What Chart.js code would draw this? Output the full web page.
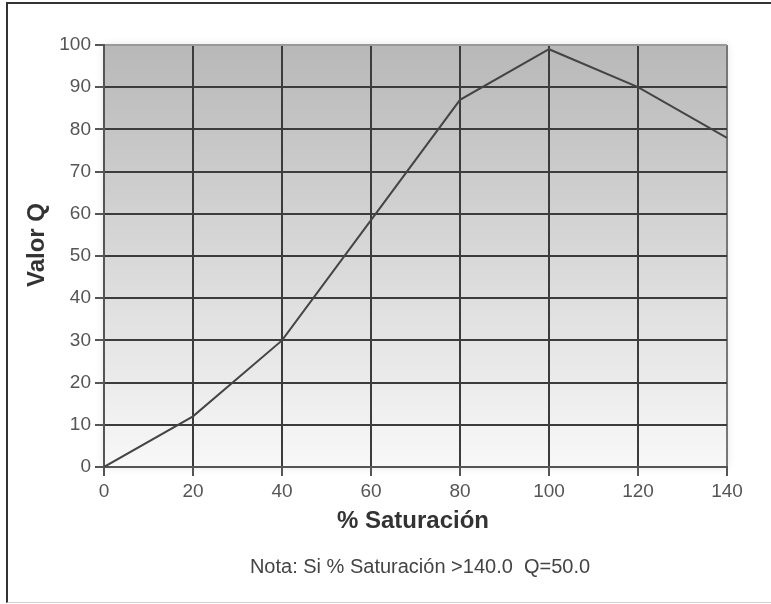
<!DOCTYPE html>
<html lang="es">
<head>
<meta charset="UTF-8">
<title>Valor Q - % Saturación</title>
<script src="https://cdn.jsdelivr.net/npm/chart.js"></script>
<style>
    body {
        margin: 0;
        background: #fff;
        overflow: hidden;
    }
    .marco {
        position: absolute;
        left: 6px;
        top: 2px;
        width: 800px;
        height: 598px;
        border-top: 2px solid #333;
        border-left: 2px solid #333;
        border-bottom: 1px solid #d0d0d0;
    }
    #grafica {
        position: absolute;
        left: 0;
        top: 0;
    }
</style>
</head>
<body>
<div class="marco"></div>
<canvas id="grafica" width="771" height="604"></canvas>

<script>
    // datos
    const saturacion = [0, 20, 40, 60, 80, 100, 120, 140];
    const valorQ = [0, 12, 30, 58.5, 87, 99, 90, 78];

    const tituloX = '% Saturación';
    const tituloY = 'Valor Q';
    const nota = 'Nota: Si % Saturación >140.0  Q=50.0';

    const fuente = '"Liberation Sans", Arial, sans-serif';

    // fondo degradado del área de la gráfica
    const fondo = {
        id: 'fondo',
        beforeDraw(chart) {
            const { ctx, chartArea: a } = chart;
            const g = ctx.createLinearGradient(0, a.top, 0, a.bottom);
            g.addColorStop(0, '#b8b8b8');
            g.addColorStop(1, '#f8f8f8');
            ctx.save();
            ctx.shadowColor = 'rgba(0,0,0,0.12)';
            ctx.shadowBlur = 8;
            ctx.fillStyle = g;
            ctx.fillRect(a.left, a.top, a.right - a.left, a.bottom - a.top);
            ctx.restore();
        }
    };

    // títulos y nota
    const textos = {
        id: 'textos',
        afterDraw(chart) {
            const ctx = chart.ctx;
            ctx.save();
            ctx.textAlign = 'center';
            ctx.textBaseline = 'middle';
            ctx.fillStyle = '#333';
            ctx.font = 'bold 24px ' + fuente;
            ctx.fillText(tituloX, 413, 521);

            ctx.save();
            ctx.translate(37, 245);
            ctx.rotate(-Math.PI / 2);
            ctx.fillText(tituloY, 0, 0);
            ctx.restore();

            ctx.fillStyle = '#444';
            ctx.font = '20px ' + fuente;
            ctx.fillText(nota, 420, 567);
            ctx.restore();
        }
    };

    new Chart(document.getElementById('grafica'), {
        type: 'scatter',
        data: {
            datasets: [{
                data: saturacion.map((x, i) => ({ x: x, y: valorQ[i] })),
                showLine: true,
                borderColor: '#444',
                borderWidth: 2,
                pointRadius: 0,
                tension: 0
            }]
        },
        options: {
            responsive: false,
            animation: false,
            layout: {
                padding: { top: 45, right: 44, left: 0, bottom: 0 }
            },
            plugins: {
                legend: { display: false },
                tooltip: { enabled: false }
            },
            scales: {
                x: {
                    type: 'linear',
                    min: 0,
                    max: 140,
                    afterFit(scale) { scale.height = 137; },
                    ticks: {
                        stepSize: 20,
                        padding: 4,
                        color: '#555',
                        font: { family: fuente, size: 19 }
                    },
                    grid: {
                        color: ctx => ctx.tick && ctx.tick.value === 140 ? '#777' : '#3c3c3c',
                        lineWidth: 2,
                        tickLength: 9,
                        tickColor: '#555'
                    },
                    border: { color: '#555', width: 2 }
                },
                y: {
                    min: 0,
                    max: 100,
                    afterFit(scale) { scale.width = 104; },
                    ticks: {
                        stepSize: 10,
                        padding: 4,
                        color: '#555',
                        font: { family: fuente, size: 19 }
                    },
                    grid: {
                        color: ctx => ctx.tick && ctx.tick.value === 100 ? '#999' : '#3c3c3c',
                        lineWidth: 2,
                        tickLength: 9,
                        tickColor: '#555'
                    },
                    border: { color: '#555', width: 2 }
                }
            }
        },
        plugins: [fondo, textos]
    });
</script>
</body>
</html>
